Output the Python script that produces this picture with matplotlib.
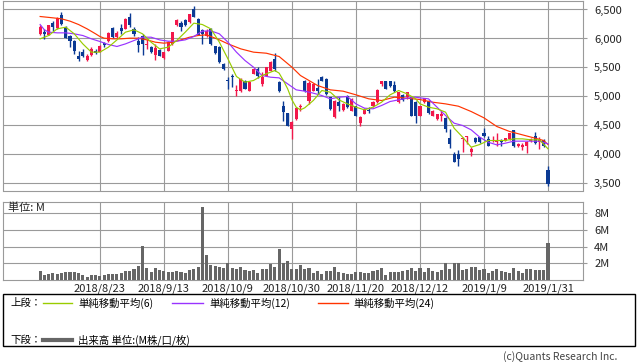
import matplotlib
matplotlib.use('Agg')
import matplotlib.pyplot as plt
from matplotlib.lines import Line2D
from matplotlib.patches import Rectangle
import numpy as np

plt.rcParams['font.family'] = ['Noto Sans CJK JP', 'DejaVu Sans']

# trading-day index, 0 = 2018/8/23 (one gridline every 15 sessions)
day = np.arange(-14, 106)

tick_days = [0, 15, 30, 45, 60, 75, 90, 105]
tick_dates = ['2018/8/23', '2018/9/13', '2018/10/9', '2018/10/30',
              '2018/11/20', '2018/12/12', '2019/1/9', '2019/1/31']

opens = [6080, 6120, 6068, 6264, 6184, 6397, 6206, 6051, 5965, 5706,
         5764, 5637, 5723, 5792, 5775, 5919, 5965, 6178, 6022, 6184,
         6166, 6368, 6166, 5965, 6051, 5879, 5850, 5723, 5804, 5660,
         5792, 5907, 6224, 6264, 6327, 6281, 6511, 6339, 6149, 6051,
         6166, 5862, 5850, 5562, 5287, 5361, 5091, 5091, 5275, 5102,
         5390, 5476, 5217, 5361, 5447, 5649, 5246, 4844, 4712, 4441,
         4614, 4815, 5275, 4930, 5102, 5149, 5344, 5304, 4987, 4643,
         4901, 4769, 5016, 4757, 4827, 4539, 4700, 4769, 4827, 4901,
         5217, 5258, 5264, 5189, 4901, 5028, 4987, 4987, 4913, 4671,
         4901, 4930, 4671, 4614, 4671, 4631, 4286, 4010, 4010, 4269,
         4298, 4039, 4286, 4298, 4372, 4269, 4240, 4211, 4252, 4240,
         4269, 4413, 4142, 4125, 4137, 4229, 4326, 4211, 4252, 3734]
highs = [6235, 6166, 6235, 6310, 6368, 6465, 6218, 6063, 5976, 5792,
         5821, 5735, 5850, 5810, 5879, 5936, 6120, 6195, 6137, 6253,
         6350, 6437, 6206, 6022, 6080, 5994, 5862, 5907, 5816, 5775,
         5948, 6120, 6339, 6310, 6339, 6425, 6552, 6350, 6160, 6166,
         6178, 5873, 5862, 5574, 5332, 5379, 5189, 5315, 5287, 5258,
         5488, 5516, 5419, 5516, 5603, 5746, 5258, 4930, 4723, 4585,
         4815, 4872, 5287, 5275, 5229, 5304, 5355, 5315, 4999, 4941,
         4987, 4884, 5028, 4970, 4838, 4671, 4798, 4815, 4924, 5126,
         5275, 5270, 5275, 5275, 5085, 5039, 5085, 4999, 4924, 4838,
         4982, 4941, 4769, 4700, 4757, 4643, 4441, 4039, 4079, 4298,
         4326, 4125, 4298, 4309, 4453, 4326, 4326, 4367, 4269, 4292,
         4378, 4424, 4194, 4194, 4240, 4280, 4384, 4298, 4269, 3797]
lows = [6068, 5994, 6057, 6137, 6172, 6241, 6005, 5850, 5735, 5609,
        5677, 5609, 5706, 5735, 5764, 5850, 5936, 6011, 6011, 6080,
        6155, 6206, 6051, 5764, 5718, 5821, 5752, 5632, 5695, 5649,
        5781, 5896, 6212, 6137, 6212, 6270, 6368, 6057, 5907, 6022,
        5879, 5735, 5580, 5453, 5131, 5160, 5005, 5080, 5120, 5091,
        5379, 5321, 5172, 5350, 5436, 5447, 5080, 4574, 4487, 4269,
        4602, 4757, 5080, 4872, 5091, 5045, 5264, 5022, 4775, 4631,
        4757, 4757, 4804, 4746, 4660, 4499, 4689, 4712, 4815, 4890,
        5172, 5120, 5160, 5074, 4890, 4930, 4959, 4660, 4539, 4660,
        4890, 4700, 4660, 4602, 4585, 4384, 4108, 3866, 3797, 4039,
        4183, 3981, 4194, 4200, 4309, 4137, 4211, 4154, 4137, 4229,
        4257, 4131, 4131, 4079, 4022, 4217, 4183, 4096, 4125, 3464]
closes = [6206, 6080, 6224, 6206, 6350, 6253, 6011, 5953, 5792, 5649,
          5706, 5706, 5821, 5758, 5867, 5890, 6097, 6022, 6092, 6126,
          6339, 6224, 6080, 5890, 5907, 5907, 5764, 5833, 5706, 5764,
          5936, 6109, 6327, 6206, 6224, 6414, 6379, 6068, 6080, 6126,
          5907, 5746, 5591, 5465, 5264, 5332, 5114, 5304, 5131, 5246,
          5476, 5361, 5332, 5505, 5591, 5476, 5091, 4729, 4499, 4556,
          4804, 4838, 5091, 5229, 5217, 5102, 5275, 5034, 4786, 4930,
          4844, 4872, 4815, 4959, 4671, 4654, 4786, 4746, 4913, 5114,
          5264, 5131, 5172, 5102, 5074, 4941, 5074, 4671, 4671, 4827,
          4970, 4712, 4757, 4689, 4700, 4441, 4183, 3878, 3924, 4286,
          4309, 4096, 4211, 4211, 4326, 4154, 4252, 4252, 4211, 4280,
          4367, 4142, 4183, 4171, 4211, 4269, 4194, 4252, 4137, 3492]

# volume in millions of shares
volumes = [1.12, 0.56, 0.72, 0.88, 0.72, 0.88, 0.96, 0.96, 0.96, 0.88,
           0.64, 0.32, 0.64, 0.60, 0.48, 0.56, 0.72, 0.72, 0.72, 0.88,
           1.04, 1.12, 1.28, 1.68, 4.08, 1.44, 1.00, 1.44, 1.20, 1.04,
           0.96, 1.00, 1.12, 0.96, 0.80, 1.20, 1.36, 1.60, 8.80, 3.00,
           1.80, 1.64, 1.52, 1.40, 2.00, 1.44, 1.36, 1.52, 1.20, 1.08,
           1.20, 0.88, 1.28, 1.36, 1.92, 1.52, 3.68, 2.00, 2.32, 1.36,
           1.36, 1.80, 1.32, 1.40, 0.80, 1.04, 0.72, 1.04, 1.08, 1.60,
           0.96, 0.84, 0.72, 0.72, 1.00, 0.96, 0.80, 0.84, 1.04, 1.20,
           1.44, 0.60, 1.00, 0.96, 0.96, 1.12, 1.20, 1.40, 1.04, 1.44,
           1.00, 1.44, 1.08, 1.00, 1.20, 2.00, 1.36, 2.00, 2.00, 1.20,
           1.36, 1.52, 1.60, 1.20, 1.36, 0.88, 1.04, 1.28, 1.04, 0.96,
           0.88, 1.44, 1.12, 0.88, 1.28, 1.28, 1.20, 1.20, 1.20, 4.48]

ma6_day = [-14, -12, -10, -8, -6, -4, -2, 0, 2, 4, 6, 8, 10, 12, 14, 16, 18, 20,
           22, 24, 26, 28, 30, 32, 34, 36, 38, 40, 41, 42, 43, 44, 45, 46, 47,
           48, 50, 52, 54, 56, 58, 60, 62, 64, 66, 68, 70, 72, 74, 75, 77, 79,
           81, 83, 85, 87, 89, 91, 93, 95, 97, 99, 101, 103, 105]
ma6 = [5994, 6051, 6166, 6195, 6080, 5907, 5764, 5764, 5850, 5976, 6109, 6149,
       6080, 5936, 5821, 5850, 5965, 6109, 6264, 6241, 6166, 5936, 5649, 5344,
       5246, 5275, 5361, 5419, 5447, 5402, 5275, 5131, 4941, 4815, 4769, 4804,
       4930, 5102, 5074, 4941, 4872, 4815, 4769, 4815, 4901, 5028, 5102, 5045,
       4959, 4873, 4815, 4787, 4729, 4453, 4298, 4125, 4171, 4240, 4240, 4240,
       4269, 4269, 4252, 4252, 4097]
ma12_day = [-14, -13, -12, -10, -8, -6, -4, -2, 0, 2, 4, 6, 8, 10, 12, 14, 16,
            18, 20, 22, 24, 26, 28, 30, 32, 34, 36, 38, 40, 42, 44, 46, 48, 50,
            52, 54, 56, 58, 60, 62, 64, 66, 68, 70, 72, 74, 75, 77, 79, 81, 83,
            85, 87, 89, 91, 93, 95, 97, 99, 101, 103, 105]
ma12 = [6241, 6149, 6109, 6097, 6097, 6080, 6051, 5994, 5948, 5896, 5862, 5907,
        5965, 6022, 6022, 5976, 5953, 5953, 5976, 6034, 6126, 6132, 6080, 5936,
        5764, 5620, 5505, 5361, 5332, 5321, 5217, 5114, 5091, 5057, 5016, 4959,
        4987, 4999, 4872, 4798, 4787, 4844, 4913, 4941, 4970, 4987, 4976, 4959,
        4815, 4671, 4539, 4499, 4424, 4298, 4211, 4165, 4194, 4229, 4229, 4229,
        4229, 4183]
ma24_day = [-14, -11, -9, -7, -5, -3, -1, 0, 1, 3, 5, 7, 9, 11, 13, 15, 17, 19,
            21, 23, 25, 26, 28, 30, 33, 36, 39, 42, 45, 47, 49, 51, 54, 57, 60,
            63, 66, 69, 72, 75, 78, 81, 84, 87, 90, 93, 96, 99, 102, 104, 105]
ma24 = [6379, 6356, 6339, 6299, 6241, 6166, 6080, 6034, 6005, 5994, 5994, 6005,
        6005, 5976, 5936, 5919, 5936, 5976, 6022, 6051, 6063, 6034, 5976, 5908,
        5821, 5764, 5746, 5689, 5505, 5361, 5275, 5189, 5114, 5091, 5028, 4959,
        4930, 4987, 4970, 4947, 4901, 4872, 4832, 4740, 4631, 4482, 4396, 4338,
        4280, 4240, 4171]

price_ticks = [3500, 4000, 4500, 5000, 5500, 6000, 6500]
vol_ticks = [2, 4, 6, 8]

RED = '#F2174B'
BLUE = '#0B3A94'
C6 = '#99CC00'
C12 = '#9933FF'
C24 = '#FF3300'
GRID = '#9a9a9a'

W, H = 638, 362
fig = plt.figure(figsize=(W / 100, H / 100), dpi=100)


def px_axes(x0, y0, x1, y1):
    return fig.add_axes([x0 / W, 1 - y1 / H, (x1 - x0) / W, (y1 - y0) / H])


def fx(x):
    return x / W


def fy(y):
    return 1 - y / H


ax = px_axes(3, 0.5, 583, 190.5)
axv = px_axes(3, 202, 583, 280)

for a in (ax, axv):
    a.set_xlim(-22.7, 113.2)
    a.set_xticks(tick_days)
    a.set_axisbelow(True)
    a.grid(True, color=GRID, lw=0.8)
    for s in a.spines.values():
        s.set_color(GRID)
        s.set_linewidth(0.8)
    a.yaxis.tick_right()
    a.tick_params(axis='y', length=3, color=GRID, labelsize=8, pad=5,
                  labelcolor='#222222')
    a.tick_params(axis='x', length=0, labelsize=8, labelcolor='#222222', pad=2.5)

# price panel
o, h, l, c = map(np.array, (opens, highs, lows, closes))
col = np.where(c >= o, RED, BLUE)
ax.vlines(day, l, h, colors=col, lw=1, zorder=3)
ax.bar(day, np.maximum(np.abs(c - o), 12), bottom=np.minimum(o, c), width=0.72,
       color=col, zorder=4)
ax.plot(ma24_day, ma24, color=C24, lw=0.85, zorder=5)
ax.plot(ma12_day, ma12, color=C12, lw=0.85, zorder=5)
ax.plot(ma6_day, ma6, color=C6, lw=0.85, zorder=5)
ax.set_ylim(3378, 6655)
ax.set_yticks(price_ticks)
ax.set_yticklabels([f'{v:,}' for v in price_ticks])
ax.set_xticklabels([])

# volume panel
axv.bar(day, volumes, width=0.72, color='#666666', zorder=3)
axv.set_ylim(0, 9.36)
axv.set_yticks(vol_ticks)
axv.set_yticklabels([f'{v}M' for v in vol_ticks])
axv.set_xticklabels(tick_dates)
fig.text(fx(8), fy(208), '単位: M', fontsize=8, va='center', color='#222222')

# legend box
fig.add_artist(Rectangle((fx(3), fy(346)), fx(632), 52 / H, transform=fig.transFigure,
                         fill=False, ec='black', lw=1))
ry1, ry2 = fy(303), fy(340)
fig.text(fx(10), ry1, '上段：', fontsize=7.5, va='center')
fig.add_artist(Line2D([fx(43), fx(72)], [ry1, ry1], color=C6, lw=1))
fig.text(fx(78), ry1, '単純移動平均(6)', fontsize=7.5, va='center')
fig.add_artist(Line2D([fx(172), fx(203)], [ry1, ry1], color=C12, lw=1))
fig.text(fx(209), ry1, '単純移動平均(12)', fontsize=7.5, va='center')
fig.add_artist(Line2D([fx(318), fx(348)], [ry1, ry1], color=C24, lw=1))
fig.text(fx(353), ry1, '単純移動平均(24)', fontsize=7.5, va='center')
fig.text(fx(10), ry2, '下段：', fontsize=7.5, va='center')
fig.add_artist(Line2D([fx(43), fx(72)], [ry2, ry2], color='#666666', lw=3))
fig.text(fx(78), ry2, '出来高 単位:(M株/口/枚)', fontsize=7.5, va='center')

fig.text(fx(617), fy(357), '(c)Quants Research Inc.', fontsize=7.5, ha='right',
         va='center', color='#444444')

fig.savefig('out.png', dpi=100)
